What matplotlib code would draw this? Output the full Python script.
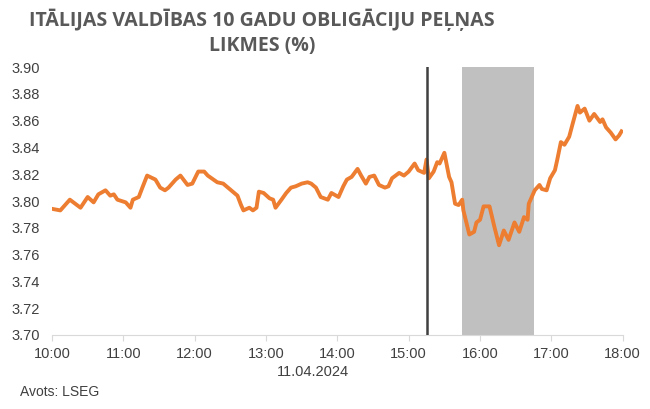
import matplotlib
matplotlib.use("Agg")
import matplotlib.pyplot as plt
import numpy as np

# minūtes kopš 10:00 un ienesīgums (%)
minutes = [1, 7, 15, 24, 30, 35, 39, 45, 49, 52, 55, 62, 66, 68, 73, 76, 80, 87,
           91, 95, 98, 104, 108, 114, 118, 123, 128, 131, 139, 144, 148, 152,
           156, 159, 161, 166, 169, 172, 174, 178, 183, 186, 188, 193, 197,
           201, 205, 210, 215, 218, 222, 226, 232, 235, 241, 245, 248, 252,
           257, 260, 264, 267, 271, 275, 280, 283, 286, 292, 296, 300, 305,
           308, 313, 315, 317, 321, 324, 326, 330, 334, 336, 339, 342, 345,
           346, 351, 355, 357, 360, 363, 368, 372, 376, 380, 384, 389, 393,
           397, 400, 401, 406, 410, 412, 416, 419, 423, 425, 428, 431, 435,
           438, 442, 444, 448, 452, 456, 461, 463, 466, 470, 474, 477, 479]
yields = [3.794, 3.793, 3.801, 3.795, 3.803, 3.799, 3.805, 3.808, 3.804, 3.805,
          3.801, 3.799, 3.795, 3.801, 3.803, 3.810, 3.819, 3.816, 3.810, 3.808,
          3.810, 3.816, 3.819, 3.812, 3.813, 3.822, 3.822, 3.819, 3.814, 3.813,
          3.810, 3.807, 3.804, 3.797, 3.793, 3.795, 3.793, 3.795, 3.807, 3.806,
          3.802, 3.801, 3.795, 3.801, 3.806, 3.810, 3.811, 3.813, 3.814, 3.813,
          3.810, 3.803, 3.801, 3.806, 3.803, 3.811, 3.816, 3.818, 3.824, 3.819,
          3.813, 3.818, 3.819, 3.812, 3.810, 3.811, 3.817, 3.821, 3.819, 3.822,
          3.828, 3.823, 3.821, 3.831, 3.817, 3.822, 3.829, 3.828, 3.836, 3.818,
          3.814, 3.798, 3.797, 3.801, 3.793, 3.775, 3.777, 3.784, 3.786, 3.796,
          3.796, 3.781, 3.767, 3.778, 3.771, 3.784, 3.777, 3.788, 3.786, 3.798,
          3.808, 3.812, 3.809, 3.808, 3.817, 3.823, 3.831, 3.844, 3.842, 3.848,
          3.858, 3.871, 3.866, 3.869, 3.860, 3.865, 3.859, 3.861, 3.855, 3.851,
          3.846, 3.849, 3.852]

event_min = 315          # 15:15
band_start, band_end = 345, 405   # 15:45 - 16:45
tick_labels = ["10:00", "11:00", "12:00", "13:00", "14:00",
               "15:00", "16:00", "17:00", "18:00"]
y_ticks = np.arange(3.70, 3.901, 0.02)

plt.rcParams['font.family'] = ['Liberation Sans', 'DejaVu Sans']

fig = plt.figure(figsize=(6.5, 4.09), dpi=100)
ax = fig.add_axes([0.08, 0.181, 0.878, 0.655])

ax.axvspan(band_start, band_end, color="#c0c0c0", lw=0, zorder=1)
ax.axvline(event_min, color="#404040", lw=1.8, zorder=3)
ax.plot(minutes, yields, color="#ed7d31", lw=2.8, zorder=2,
        solid_joinstyle="round")

ax.set_xlim(0, 480)
ax.set_ylim(3.70, 3.90)
ax.set_xticks(np.arange(0, 481, 60))
ax.set_xticklabels(tick_labels)
ax.set_yticks(y_ticks)
ax.set_yticklabels(["%.2f" % v for v in y_ticks])
ax.tick_params(axis="x", length=4, color="#d9d9d9", labelsize=10.5,
               labelcolor="#404040", pad=5)
ax.tick_params(axis="y", length=0, labelsize=10.5, labelcolor="#404040", pad=9)
for s in ["top", "right", "left"]:
    ax.spines[s].set_visible(False)
ax.spines["bottom"].set_color("#d9d9d9")

fig.text(313 / 650, 1 - 372 / 409, "11.04.2024", ha="center", va="center",
         fontsize=10.5, color="#404040")
fig.text(20 / 650, 1 - 392 / 409, "Avots: LSEG", ha="left", va="center",
         fontsize=10, color="#404040")
fig.text(262 / 650, 1 - 20 / 409, "ITĀLIJAS VALDĪBAS 10 GADU OBLIGĀCIJU PEĻŅAS",
         ha="center", va="center", fontsize=14, fontweight="bold",
         color="#595959", family=["Open Sans", "DejaVu Sans"])
fig.text(262 / 650, 1 - 46 / 409, "LIKMES (%)",
         ha="center", va="center", fontsize=14, fontweight="bold",
         color="#595959", family=["Open Sans", "DejaVu Sans"])

fig.savefig("out.png", dpi=100)
